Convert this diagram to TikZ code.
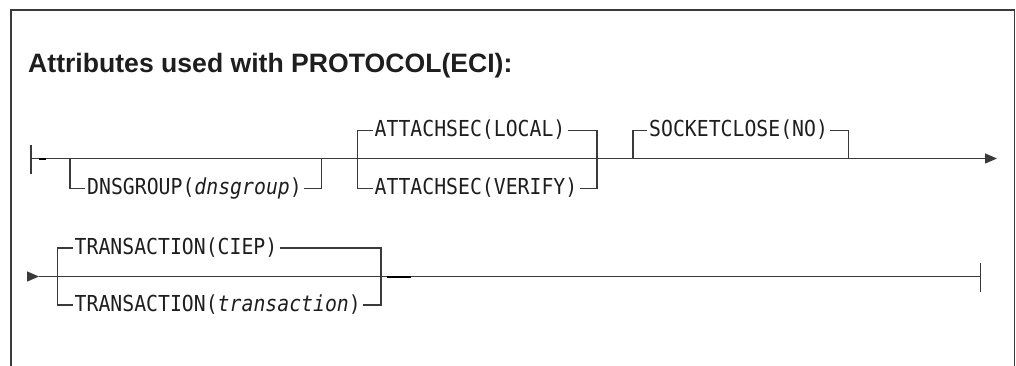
\documentclass[tikz,border=0pt]{standalone}
\usepackage{fontspec}
\setmainfont{Liberation Sans}
\newfontfamily\dmono[FakeStretch=0.9]{DejaVu Sans Mono}
\usetikzlibrary{arrows.meta}
\definecolor{ln}{HTML}{3A3A3A}
\definecolor{tx}{HTML}{1E1E1E}
\begin{document}
\begin{tikzpicture}[x=1pt,y=-1pt,
  rail/.style={draw=ln,line width=1.4pt},
  boldseg/.style={draw=black,line width=2pt},
  kw/.style={font=\dmono\fontsize{22}{22}\selectfont,text=tx,inner xsep=2pt,inner ysep=0pt,anchor=base west},
  ttl/.style={font=\bfseries\fontsize{26.6}{30}\selectfont,text=tx,inner sep=0pt,anchor=base west},
  tip/.style={-{Triangle[length=12pt,width=10pt]}}
]
\useasboundingbox (0,0) rectangle (1016,365);
% frame
\coordinate (fbl) at (11,366);
\coordinate (ftl) at (11,10);
\coordinate (ftr) at (1014.5,10);
\coordinate (fbr) at (1014.5,366);
\draw[draw=ln,line width=1.4pt] (fbl) -- (ftl) -- (ftr) -- (fbr);
\node[ttl] (title) at (28,72) {Attributes used with PROTOCOL(ECI):};

% ---------------- row 1 ----------------
\coordinate (r1s) at (31,158.5);
\coordinate (r1a) at (31,145);
\coordinate (r1b) at (31,174);
\coordinate (r1e) at (997,158.5);
\coordinate (dsh1) at (39,158.5);
\coordinate (dsh2) at (46,158.5);
\coordinate (d1) at (70,158.5);
\coordinate (d1b) at (70,188.5);
\coordinate (d2) at (321.5,158.5);
\coordinate (d2b) at (321.5,188.5);
\coordinate (a1t) at (357.5,130.5);
\coordinate (a1b) at (357.5,188.5);
\coordinate (a2t) at (597,130.5);
\coordinate (a2b) at (597,188.5);
\coordinate (k1) at (633,158.5);
\coordinate (k1t) at (633,130.5);
\coordinate (k2) at (848.5,158.5);
\coordinate (k2t) at (848.5,130.5);

\node[kw] (dns) at (85,194.5) {DNSGROUP(\textit{dnsgroup})};
\node[kw] (attl) at (372.5,136.5) {ATTACHSEC(LOCAL)};
\node[kw] (attv) at (372.5,194.5) {ATTACHSEC(VERIFY)};
\node[kw] (sock) at (647,136.5) {SOCKETCLOSE(NO)};

\draw[rail] (r1a) -- (r1b);
\draw[rail,tip] (r1s) -- (r1e);
\draw[boldseg] (dsh1) -- (dsh2);
\draw[rail] (d1) -- (d1b) -- (dns.west |- d1b);
\draw[rail] (dns.east |- d2b) -- (d2b) -- (d2);
\draw[rail] (attl.west |- a1t) -- (a1t) -- (a1b) -- (attv.west |- a1b);
\draw[rail] (attl.east |- a2t) -- (a2t) -- (a2b) -- (attv.east |- a2b);
\draw[rail] (k1) -- (k1t) -- (sock.west |- k1t);
\draw[rail] (sock.east |- k2t) -- (k2t) -- (k2);

% ---------------- row 2 ----------------
\coordinate (r2s) at (27,276.5);
\coordinate (r2m) at (39,276.5);
\coordinate (r2e) at (980.5,276.5);
\coordinate (r2ea) at (980.5,262.5);
\coordinate (r2eb) at (980.5,292);
\coordinate (t1t) at (57.5,248);
\coordinate (t1b) at (57.5,305);
\coordinate (t2t) at (381,248);
\coordinate (t2b) at (381,305);
\coordinate (dsh3) at (387,276.5);
\coordinate (dsh4) at (410.5,276.5);

\node[kw] (trc) at (72.5,254) {TRANSACTION(CIEP)};
\node[kw] (trt) at (72.5,311) {TRANSACTION(\textit{transaction})};

\draw[rail,tip] (r2s) -- (r2m);
\draw[rail] (r2m) -- (r2e);
\draw[rail] (r2ea) -- (r2eb);
\draw[boldseg] (dsh3) -- (dsh4);
\draw[rail] (trc.west |- t1t) -- (t1t) -- (t1b) -- (trt.west |- t1b);
\draw[rail] (trc.east |- t2t) -- (t2t) -- (t2b) -- (trt.east |- t2b);
\end{tikzpicture}
\end{document}
